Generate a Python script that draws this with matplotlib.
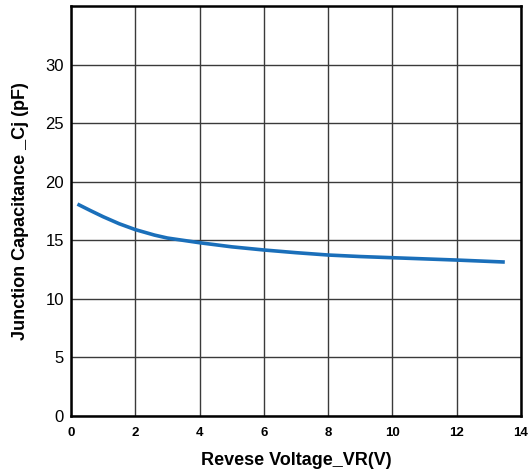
import matplotlib
matplotlib.use("Agg")
import matplotlib.pyplot as plt

# reverse voltage (V) vs junction capacitance (pF)
vr = [0.2, 0.6, 1.0, 1.5, 2.0, 2.6, 3.0, 4.0, 5.0, 6.0, 7.0, 8.0, 9.0, 10.0, 11.0, 12.0, 13.5]
cj = [18.1, 17.55, 17.02, 16.42, 15.92, 15.45, 15.2, 14.8, 14.45, 14.18, 13.95, 13.75, 13.62, 13.52, 13.42, 13.32, 13.15]

x_ticks = [0, 2, 4, 6, 8, 10, 12, 14]
y_ticks = [0, 5, 10, 15, 20, 25, 30]

plt.rcParams['font.family'] = ['Liberation Sans', 'DejaVu Sans']

fig = plt.figure(figsize=(5.28, 4.76), dpi=100)
ax = fig.add_axes([0.1345, 0.126, 0.852, 0.861])

ax.plot(vr, cj, color='#1a6fba', linewidth=2.6, solid_capstyle='butt')

ax.set_xlim(0, 14)
ax.set_ylim(0, 35)
ax.set_xticks(x_ticks)
ax.set_yticks(y_ticks)
ax.set_xticklabels([str(v) for v in x_ticks], fontsize=9.5, fontweight='bold')
ax.set_yticklabels([str(v) for v in y_ticks], fontsize=12)
ax.tick_params(axis='x', length=0, pad=8)
ax.tick_params(axis='y', length=0, pad=5)

ax.grid(True, color='#3a3a3a', linewidth=1.0)
ax.set_axisbelow(True)
for s in ax.spines.values():
    s.set_linewidth(1.8)
    s.set_color('black')

ax.set_xlabel('Revese Voltage_VR(V)', fontsize=13, fontweight='bold', labelpad=9)
ax.set_ylabel('Junction Capacitance _Cj (pF)', fontsize=13, fontweight='bold', labelpad=12)

fig.savefig('out.png', dpi=100)
